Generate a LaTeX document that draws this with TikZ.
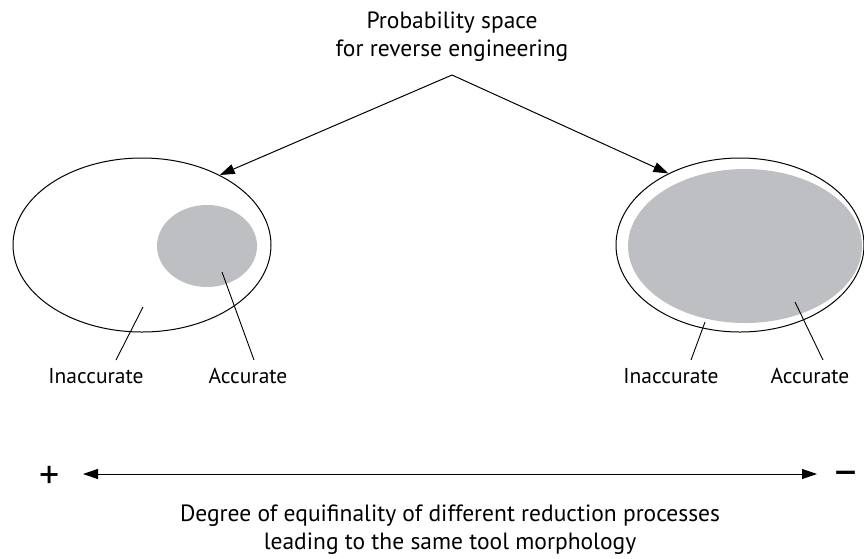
\documentclass[tikz,border=0pt]{standalone}
\usepackage{fontspec}
\setmainfont{PT Sans}
\usetikzlibrary{shapes.geometric,arrows.meta}
\definecolor{fillgray}{RGB}{190,191,194}
\begin{document}
\begin{tikzpicture}[x=1pt,y=-1pt,
  lbl/.style={font=\fontsize{21.5}{24}\selectfont, inner sep=0pt},
  ttl/.style={font=\fontsize{23.5}{28}\selectfont, align=center, inner sep=0pt},
  outer/.style={draw, line width=1pt, ellipse, inner sep=0pt},
  inner/.style={fill=fillgray, ellipse, inner sep=0pt},
  conn/.style={line width=1pt, -{Triangle[length=15pt,width=10pt]}},
  lead/.style={line width=0.9pt}]
\useasboundingbox (0,0) rectangle (864,558);
% title
\node[ttl] (title) at (452,37) {Probability space\\for reverse engineering};
\coordinate (apex) at (452,75);
% left ellipses
\node[outer, minimum width=258pt, minimum height=174pt] (L) at (142,245) {};
\node[inner, minimum width=100pt, minimum height=82pt] (La) at (207,246) {};
% right ellipses
\node[outer, minimum width=248pt, minimum height=174pt] (R) at (740,245) {};
\node[inner, minimum width=234pt, minimum height=154pt] (Ra) at (745,246) {};
% arrows from title
\draw[conn] (apex) -- (L.42);
\draw[conn] (apex) -- (R.135);
% labels
\node[lbl] (li) at (96,376) {Inaccurate};
\node[lbl] (la) at (248,376) {Accurate};
\node[lbl] (ri) at (671,376) {Inaccurate};
\node[lbl] (ra) at (810,376) {Accurate};
% leader lines
\coordinate (liA) at (143,307);
\coordinate (liB) at (116,360);
\coordinate (laA) at (222,272);
\coordinate (laB) at (254,360);
\coordinate (riA) at (705,322);
\coordinate (riB) at (691,360);
\coordinate (raA) at (795,302);
\coordinate (raB) at (823,360);
\draw[lead] (liA) -- (liB);
\draw[lead] (laA) -- (laB);
\draw[lead] (riA) -- (riB);
\draw[lead] (raA) -- (raB);
% bottom scale
\node[inner sep=0pt, anchor=base, font=\fontsize{40}{40}\selectfont] (plus) at (50,488) {+};
\node[inner sep=0pt, anchor=base, font=\fontsize{44}{44}\selectfont] (minus) at (846,485) {–};
\coordinate (sL) at (83,474);
\coordinate (sR) at (817,474);
\draw[line width=1pt, {Triangle[length=15pt,width=10pt]}-{Triangle[length=15pt,width=10pt]}] (sL) -- (sR);
\node[ttl] (bottom) at (450,530) {Degree of equifinality of different reduction processes\\leading to the same tool morphology};
\end{tikzpicture}
\end{document}
